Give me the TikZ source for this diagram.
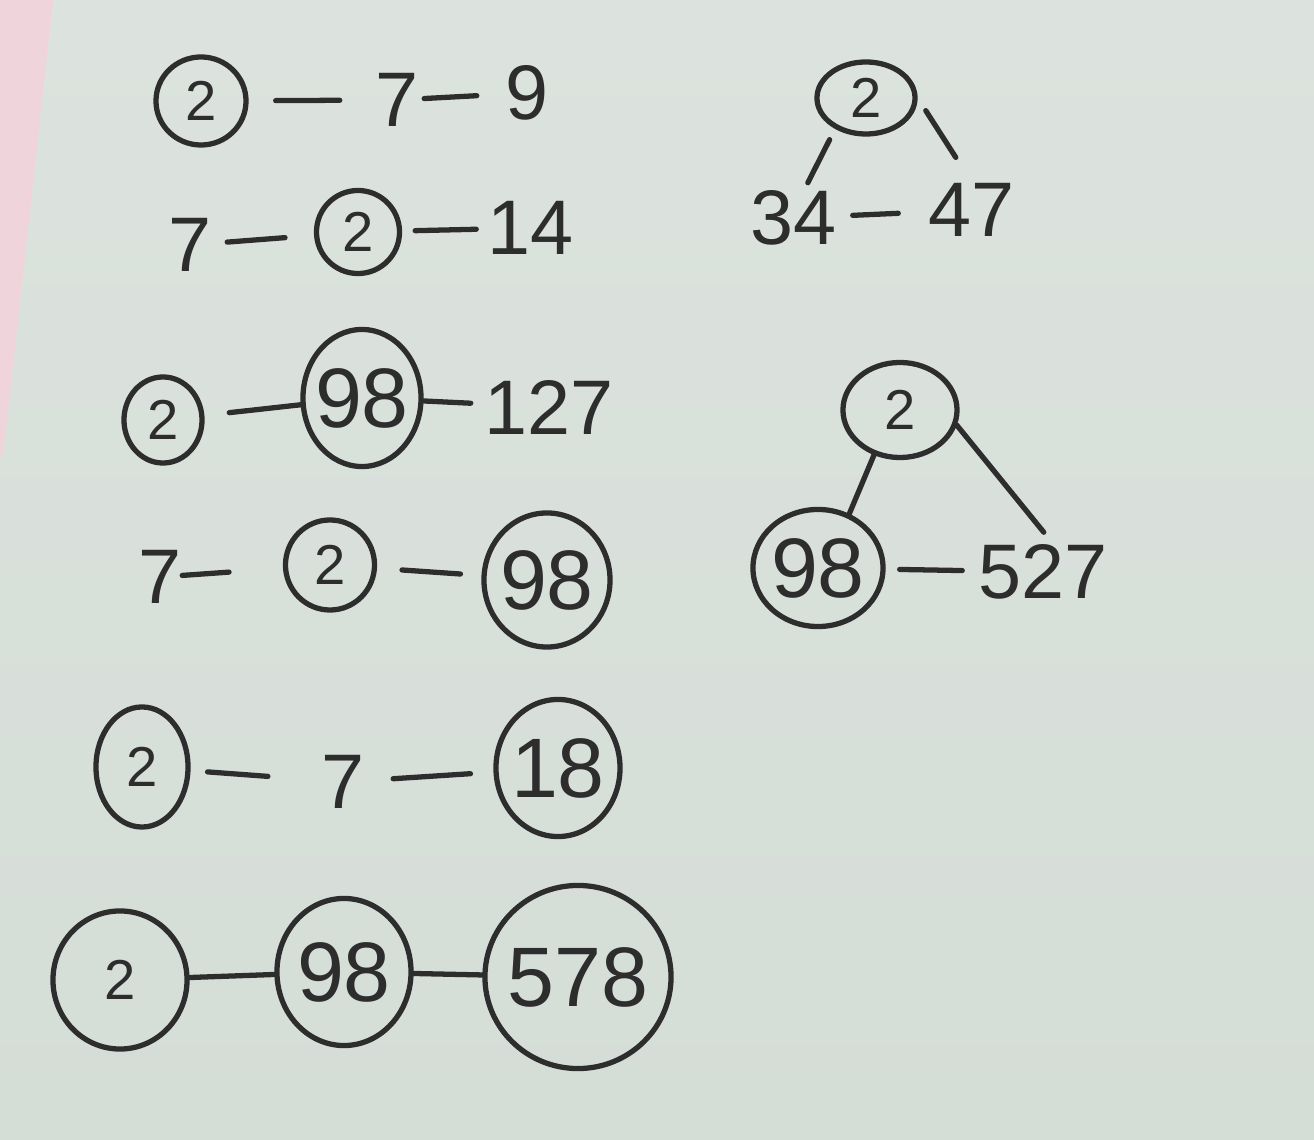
\documentclass[tikz,border=0pt]{standalone}
\usepackage{fontspec}
\setmainfont{Liberation Sans}
\usetikzlibrary{shapes.geometric,positioning}
\definecolor{paper}{RGB}{213,221,215}
\definecolor{paperlight}{RGB}{220,227,222}
\definecolor{pinkedge}{RGB}{240,212,219}
\definecolor{ink}{RGB}{45,45,45}

\begin{document}
\begin{tikzpicture}[x=0.01cm, y=-0.01cm,
every node/.style = {text=ink, font=\fontsize{22}{26}\selectfont},
every edge/.append style = {draw=ink, line width=1.5pt, line cap=round},
   num/.style = {inner sep=0pt},
  ring/.style = {ellipse, draw=ink, line width=1.5pt, inner sep=0pt, font=\fontsize{16}{19}\selectfont},
bigring/.style = {ring, inner sep=-6pt, font=\fontsize{24}{28}\selectfont},
   gap/.style 2 args = {shorten <=#1, shorten >=#2}
]
% paper
\useasboundingbox (0,0) rectangle (1314,1140);
\shade[top color=paperlight, bottom color=paper] (0,0) rectangle (1314,1140);
\fill[pinkedge] (0,0) -- (53,0) -- (3,455) -- (0,455) -- cycle;

% left column, six rows
\node (A1) [ring, minimum width=0.90cm, minimum height=0.88cm] at (201,101) {2};
\node (A2) [num] at (397,100) {7};
\node (A3) [num] at (527,93)  {9};
\node (B1) [num] at (190,245) {7};
\node (B2) [ring, minimum width=0.83cm, minimum height=0.83cm] at (358,232) {2};
\node (B3) [num] at (531,228) {14};
\node (C1) [ring, minimum width=0.78cm, minimum height=0.86cm] at (163,420) {2};
\node (C2) [bigring, minimum width=1.18cm, minimum height=1.37cm] at (362,398) {98};
\node (C3) [num] at (549,407) {127};
\node (D1) [num] at (160,577) {7};
\node (D2) [ring, minimum width=0.89cm, minimum height=0.90cm] at (330,565) {2};
\node (D3) [bigring, minimum width=1.26cm, minimum height=1.34cm] at (547,580) {98};
\node (E1) [ring, minimum width=0.92cm, minimum height=1.20cm] at (142,767) {2};
\node (E2) [num] at (343,782) {7};
\node (E3) [bigring, minimum width=1.24cm, minimum height=1.37cm] at (558,768) {18};
\node (F1) [ring, minimum width=1.34cm, minimum height=1.38cm] at (120,980) {2};
\node (F2) [bigring, minimum width=1.34cm, minimum height=1.47cm] at (344,972) {98};
\node (F3) [bigring, minimum width=1.86cm, minimum height=1.83cm] at (578,977) {578};

% right column, two small trees
\node (T1) [ring, minimum width=0.98cm, minimum height=0.72cm] at (866,98) {2};
\node (T2) [num] at (794,218) {34};
\node (T3) [num] at (972,210) {47};
\node (U1) [ring, minimum width=1.14cm, minimum height=0.95cm] at (900,410) {2};
\node (U2) [bigring, minimum width=1.30cm, minimum height=1.17cm] at (818,568) {98};
\node (U3) [num] at (1043,572) {527};

\path
        (A1) edge [gap={0.27cm}{0.35cm}] (A2)
        (A2) edge [gap={0.05cm}{0.28cm}] (A3)
        (B1) edge [gap={0.15cm}{0.29cm}] (B2)
        (B2) edge [gap={0.13cm}{0.11cm}] (B3)
        (C1) edge [gap={0.25cm}{0cm}]    (C2)
        (C2) edge [gap={0cm}{0.13cm}]    (C3)
        (D1) edge [gap={0cm}{0.54cm}]    (D2)
        (D2) edge [gap={0.25cm}{0.21cm}] (D3)
        (E1) edge [gap={0.17cm}{0.53cm}] (E2)
        (E2) edge [gap={0.28cm}{0.23cm}] (E3)
        (F1) edge                        (F2)
        (F2) edge                        (F3);

\path
        (T1.225)  edge [gap={0.12cm}{0.08cm}] (T2.70)
        (T1.east) edge [gap={0.15cm}{0.30cm}] (T3.north)
        (T2)      edge [gap={0.15cm}{0.30cm}] (T3)
        (U1.240)  edge                        (U2.60)
        (U1.345)  edge [gap={0cm}{0.15cm}]    (U3.70)
        (U2)      edge [gap={0.14cm}{0.155cm}] (U3);

\end{tikzpicture}
\end{document}
